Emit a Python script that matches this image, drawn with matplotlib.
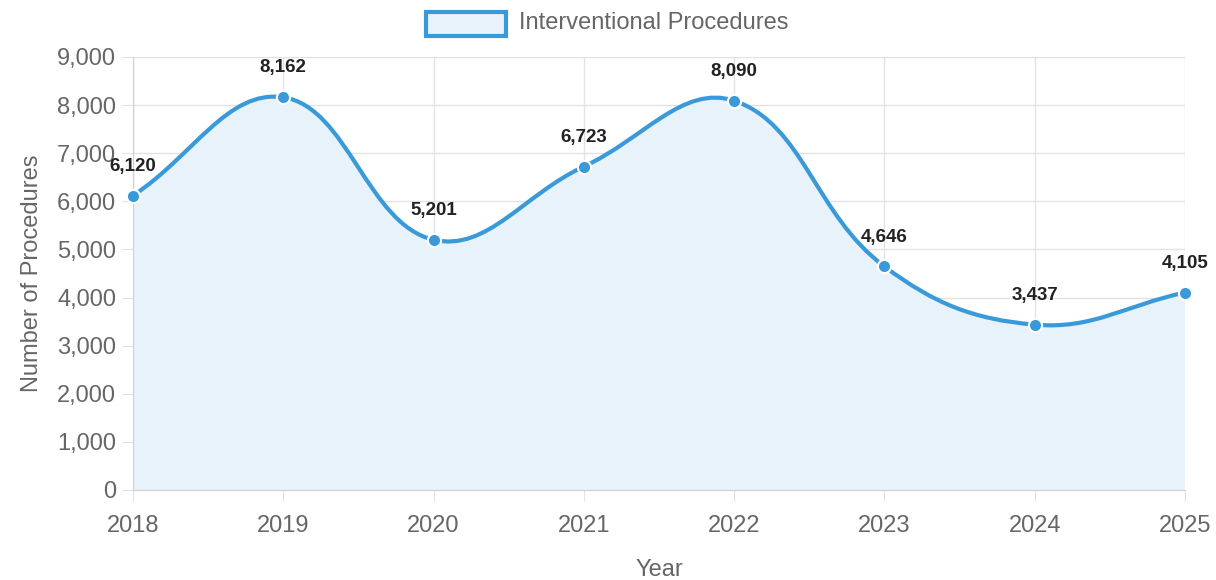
import numpy as np
import matplotlib
matplotlib.use('Agg')
import matplotlib.pyplot as plt
from matplotlib.path import Path
from matplotlib.patches import PathPatch, Rectangle
from matplotlib.ticker import FuncFormatter, MultipleLocator

years = [2018, 2019, 2020, 2021, 2022, 2023, 2024, 2025]
procedures = [6120, 8162, 5201, 6723, 8090, 4646, 3437, 4105]
series_label = 'Interventional Procedures'

LINE = '#3a9ad9'
FILL = '#e8f2fb'
GRID = '#e2e2e2'
TEXT = '#666666'

plt.rcParams['font.family'] = ['Liberation Sans', 'DejaVu Sans']

W, H = 1216, 580
fig = plt.figure(figsize=(W / 100, H / 100), dpi=100)
ax = fig.add_axes([133 / W, 1 - 490 / H, (1185 - 133) / W, (490 - 57) / H])
ax.set_xlim(years[0], years[-1])
ax.set_ylim(0, 9000)

# chart.js style bezier (tension 0.4), control points computed in pixel space
sx = (1185 - 133) / (years[-1] - years[0])
sy = (490 - 57) / 9000.0
px = np.array(years, float) * sx
py = np.array(procedures, float) * sy
t = 0.4
n = len(px)
cps = []
for i in range(n):
    pi, ni = max(i - 1, 0), min(i + 1, n - 1)
    d01 = np.hypot(px[i] - px[pi], py[i] - py[pi])
    d12 = np.hypot(px[ni] - px[i], py[ni] - py[i])
    s = d01 + d12
    fa = t * d01 / s if s else 0
    fb = t * d12 / s if s else 0
    dx, dy = px[ni] - px[pi], py[ni] - py[pi]
    cps.append(((px[i] - fa * dx, py[i] - fa * dy), (px[i] + fb * dx, py[i] + fb * dy)))

verts = [(years[0], procedures[0])]
codes = [Path.MOVETO]
for i in range(n - 1):
    c1 = cps[i][1]
    c2 = cps[i + 1][0]
    verts += [(c1[0] / sx, c1[1] / sy), (c2[0] / sx, c2[1] / sy), (years[i + 1], procedures[i + 1])]
    codes += [Path.CURVE4] * 3

fill_verts = verts + [(years[-1], 0), (years[0], 0), (years[0], procedures[0])]
fill_codes = codes + [Path.LINETO, Path.LINETO, Path.CLOSEPOLY]
ax.add_patch(PathPatch(Path(fill_verts, fill_codes), facecolor=FILL, edgecolor='none', zorder=1))
ax.add_patch(PathPatch(Path(verts, codes), facecolor='none', edgecolor=LINE, lw=3, zorder=3,
                       clip_on=False, capstyle='round'))
ax.plot(years, procedures, 'o', ms=9.5, mfc=LINE, mec='white', mew=1.5, zorder=4, clip_on=False)

for x, y in zip(years, procedures):
    ax.annotate(f'{y:,}', (x, y), xytext=(0, 15), textcoords='offset points', ha='center', va='bottom',
                fontsize=13.5, fontweight='bold', color='#222222', zorder=5)

ax.yaxis.set_major_locator(MultipleLocator(1000))
ax.yaxis.set_major_formatter(FuncFormatter(lambda v, p: f'{int(v):,}'))
ax.set_xticks(years)
ax.grid(True, color=GRID, lw=1, zorder=0)
ax.set_axisbelow(True)
for side in ['top', 'right']:
    ax.spines[side].set_visible(False)
ax.spines['left'].set_color('#cfcfcf')
ax.spines['bottom'].set_color('#cfcfcf')
ax.tick_params(axis='both', length=8, color=GRID, labelcolor=TEXT, labelsize=17)
ax.tick_params(axis='y', pad=4)
ax.tick_params(axis='x', pad=10)

ax.set_xlabel('Year', fontsize=17, color=TEXT, labelpad=16)
ax.set_ylabel('Number of Procedures', fontsize=17, color=TEXT, labelpad=10)

# legend box drawn like chart.js
fig.patches.append(Rectangle((426 / W, 1 - 36 / H), 80 / W, 24 / H, transform=fig.transFigure,
                             facecolor=FILL, edgecolor=LINE, lw=3))
fig.text(519 / W, 1 - 23 / H, series_label, fontsize=17, color=TEXT, va='center', ha='left')

fig.savefig('out.png', dpi=100)
